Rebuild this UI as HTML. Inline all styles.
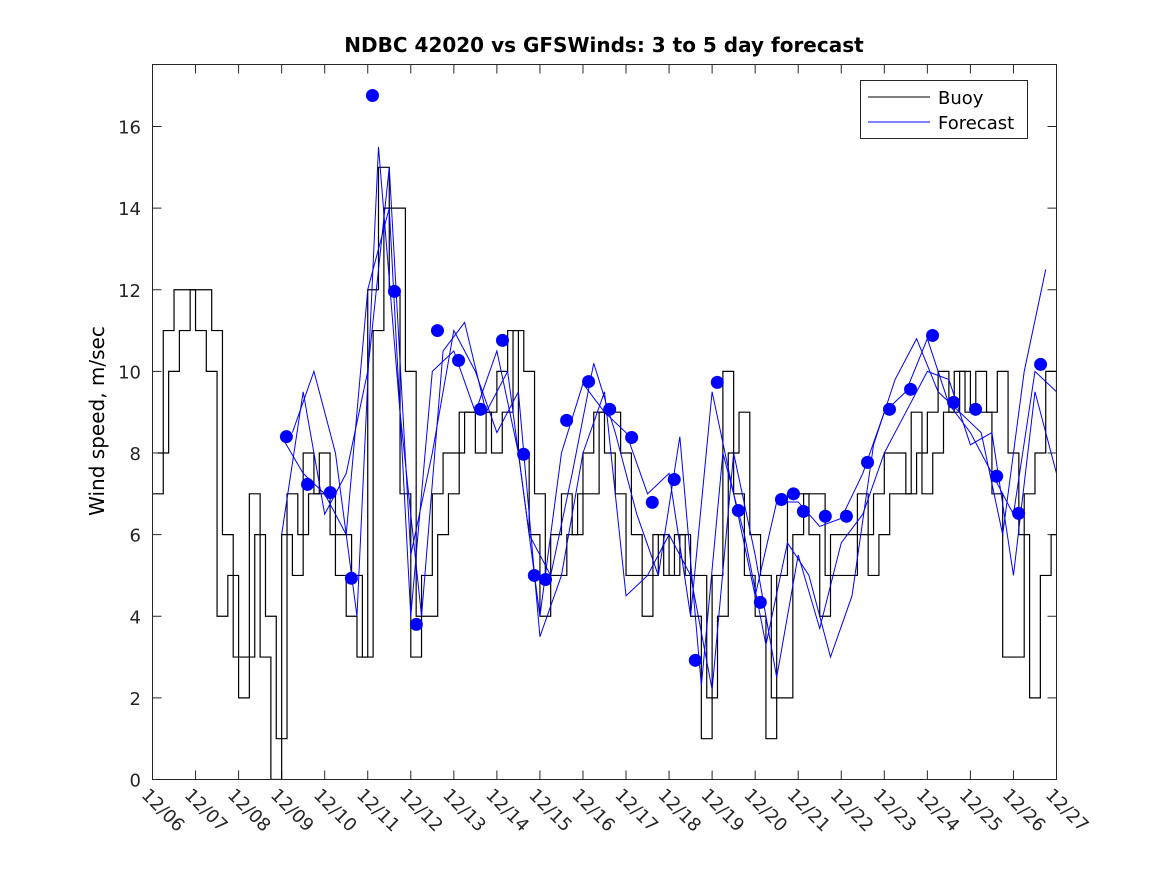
<!DOCTYPE html>
<html><head><meta charset="utf-8"><style>
html,body{margin:0;padding:0;background:#fff;}
svg{display:block;font-family:"Liberation Sans","DejaVu Sans",sans-serif;}
</style></head><body>
<svg id="chart" width="1167" height="875" xmlns="http://www.w3.org/2000/svg">
<rect width="1167" height="875" fill="#fff"/>
<text x="604" y="52" text-anchor="middle" font-size="20" font-weight="bold" font-family="DejaVu Sans, sans-serif">NDBC 42020 vs GFSWinds: 3 to 5 day forecast</text>
<text transform="translate(104,421) rotate(-90)" text-anchor="middle" font-size="20" font-family="DejaVu Sans, sans-serif">Wind speed, m/sec</text>
<g id="grid"></g>
<g id="marks"></g>
<rect x="152.5" y="64.5" width="904" height="715" fill="none" stroke="#262626" stroke-width="1"/>
<g>
<rect x="860.5" y="80.5" width="167" height="58" fill="#fff" stroke="#262626"/>
<line x1="868" y1="97" x2="930" y2="97" stroke="#000"/>
<text x="938" y="104" font-size="18" font-family="DejaVu Sans, sans-serif">Buoy</text>
<line x1="868" y1="122" x2="930" y2="122" stroke="#00f"/>
<text x="938" y="129" font-size="18" font-family="DejaVu Sans, sans-serif">Forecast</text>
</g>
</svg>
<script>
const xTickLabels=["12/06","12/07","12/08","12/09","12/10","12/11","12/12","12/13","12/14","12/15","12/16","12/17","12/18","12/19","12/20","12/21","12/22","12/23","12/24","12/25","12/26","12/27"];
const yTicks=[0,2,4,6,8,10,12,14,16];
const buoyStep=0.25;
const buoyValues=[7,11,12,12,11,10,4,5,2,7,3,0,6,5,8,7,7,5,4,3,12,15,12,7,3,5,7,8,8,9,8,9,10,11,8,6,4,6,7,6,8,9,8,7,5,5,5,6,5,6,4,1,5,10,7,5,4,1,5,7,7,6,4,6,6,6,6,7,8,8,7,8,9,10,9,10,9,9,7,3,3,7,8,10,8];
const buoyAlt=[8,10,11,12,12,11,6,3,3,6,4,1,7,6,7,8,6,6,5,3,11,14,14,10,4,4,6,7,9,9,9,8,9,11,10,7,5,5,6,7,7,9,9,8,6,4,6,5,6,5,5,2,4,8,9,6,5,2,2,6,7,7,5,5,5,7,5,6,7,7,9,7,8,9,10,9,10,9,10,8,6,2,5,6,9];
const forecastAStart=3.0, forecastAStep=0.5;
const forecastA=[8.4,7.5,7.0,6,12,14,4,10,10.5,9,10.5,8,4,8,9.7,9,8.5,7,7.5,4,9.5,7,4.5,6.8,6.8,6.2,6.4,7.5,9,9.5,10.8,9.2,8.5,7.5,6.5,10,9.5];
const forecastBStart=3.25, forecastBStep=0.5;
const forecastB=[8.5,10,8,4,15.5,9,4,10.5,11.2,9,10,6,5,7.5,10.2,8.5,6.5,5,8.4,2.3,8,6,3.3,5.8,5,3.0,4.5,8.2,9.8,10.8,9.5,9,8.5,6,10,12.5];
const forecastCStart=3.0, forecastCStep=0.5;
const forecastC=[6,9.5,6.5,7.5,10,15,5.5,8,11,10,8.5,9.5,3.5,5,8,9.5,4.5,5,6,5,2.2,8,5.5,2.5,5.5,3.7,5.8,6.5,8,9,10,9.8,8.2,8.5,5,9.5,7.5];
const dotDays=[3.11,3.6,4.13,4.62,5.11,5.62,6.13,6.62,7.11,7.62,8.13,8.62,8.87,9.13,9.62,10.13,10.62,11.13,11.61,12.12,12.61,13.12,13.61,14.12,14.61,14.89,15.12,15.63,16.12,16.61,17.12,17.61,18.12,18.61,19.12,19.61,20.12,20.63];
const dotValues=[8.4,7.23,7.03,4.93,16.76,11.96,3.8,11.0,10.27,9.07,10.76,7.97,5.0,4.9,8.8,9.75,9.07,8.38,6.79,7.35,2.92,9.73,6.59,4.34,6.86,7.0,6.57,6.45,6.45,7.77,9.07,9.56,10.88,9.24,9.07,7.43,6.52,10.17];

const X0=152.5,X1=1056.5,Y0=779.5,Y1=126.5;
const sx=d=>X0+(X1-X0)*d/21;
const sy=v=>Y0-(Y0-Y1)*v/16;
const NS="http://www.w3.org/2000/svg";
const grid=document.getElementById('grid'),marks=document.getElementById('marks');
function mk(tag,attrs,parent){const e=document.createElementNS(NS,tag);for(const k in attrs)e.setAttribute(k,attrs[k]);parent.appendChild(e);return e;}
xTickLabels.forEach((lab,i)=>{
  const x=sx(i);
  const t1=mk('line',{x1:x,y1:779.5,x2:x,y2:770.5,stroke:'#262626'},grid);
  
  
  const t2=mk('line',{x1:x,y1:64.5,x2:x,y2:73.5,stroke:'#262626'},grid);
  
  
  const tx=mk('text',{transform:`translate(${x-12},${796}) rotate(45)`,'font-size':18,'font-family':'DejaVu Sans, sans-serif',fill:'#262626'},grid);
  tx.textContent=lab;
  
  
});
yTicks.forEach(v=>{
  const y=sy(v);
  const t1=mk('line',{x1:152.5,y1:y,x2:161.5,y2:y,stroke:'#262626'},grid);
  
  
  const t2=mk('line',{x1:1056.5,y1:y,x2:1047.5,y2:y,stroke:'#262626'},grid);
  
  
  const tx=mk('text',{x:141,y:y+7,'text-anchor':'end','font-size':18,'font-family':'DejaVu Sans, sans-serif',fill:'#262626'},grid);
  tx.textContent=v;
  
  
});
function stairs(vals,step,start){let d='';vals.forEach((v,i)=>{const x=sx(start+i*step),y=sy(v);d+=(i?`H${x}V${y}`:`M${x},${y}`);});return d;}
const cp=mk('clipPath',{id:'clip'},marks);mk('rect',{x:152,y:64,width:905,height:716},cp);
const g=mk('g',{'clip-path':'url(#clip)'},marks);
const b1=mk('path',{d:stairs(buoyValues,buoyStep,0),fill:'none',stroke:'#000','stroke-width':1.2},g);


const b2=mk('path',{d:stairs(buoyAlt,buoyStep,0.125),fill:'none',stroke:'#000','stroke-width':1.2},g);


function poly(vals,start,step){return vals.map((v,i)=>(i?'L':'M')+sx(start+i*step)+','+sy(v)).join('');}
const fa=mk('path',{d:poly(forecastA,forecastAStart,forecastAStep),fill:'none',stroke:'#00f','stroke-width':1},g);


const fb=mk('path',{d:poly(forecastB,forecastBStart,forecastBStep),fill:'none',stroke:'#00f','stroke-width':1},g);


const fc=mk('path',{d:poly(forecastC,forecastCStart,forecastCStep),fill:'none',stroke:'#00f','stroke-width':1},g);


dotDays.forEach((d,i)=>{
  const c=mk('circle',{cx:sx(d),cy:sy(dotValues[i]),r:6.5,fill:'#00f'},g);
  
  
});
</script>
</body></html>
